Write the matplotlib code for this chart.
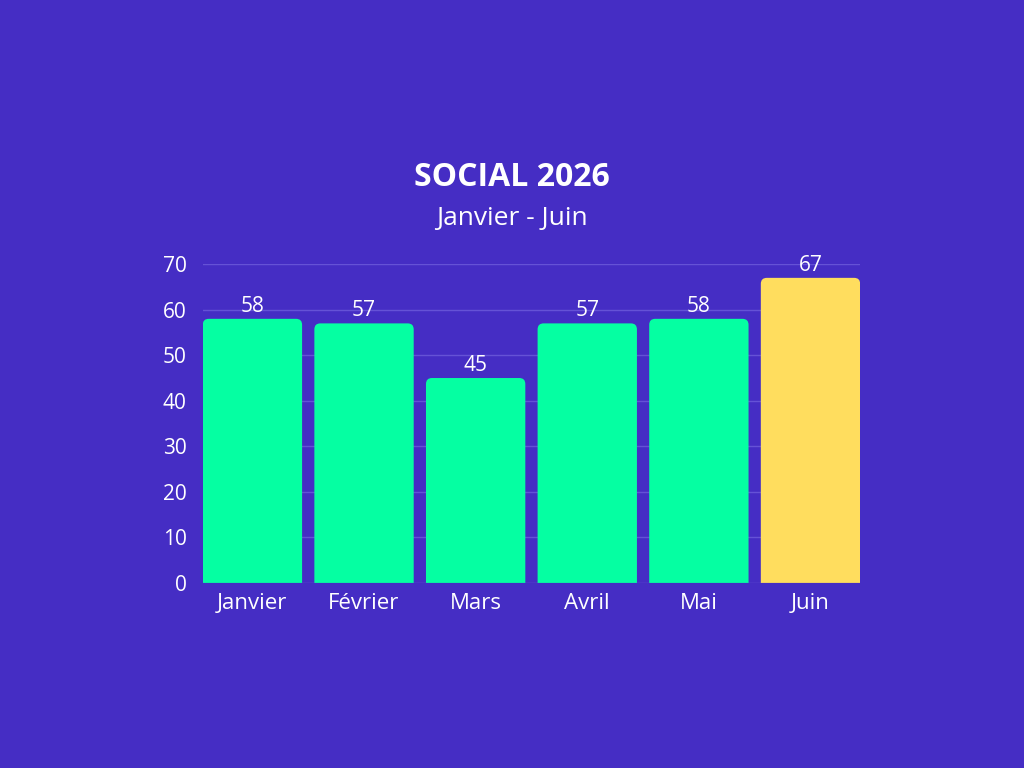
import matplotlib.pyplot as plt
from matplotlib.path import Path
from matplotlib.patches import PathPatch

plt.rcParams['font.family'] = ['Open Sans', 'DejaVu Sans']

mois = ['Janvier', 'Février', 'Mars', 'Avril', 'Mai', 'Juin']
valeurs = [58, 57, 45, 57, 58, 67]
couleurs = ['#05FFA2'] * 5 + ['#FFDD5E']

fond = '#452DC4'
largeur = 0.89

fig = plt.figure(figsize=(10.24, 7.68), dpi=100, facecolor=fond)
ax = fig.add_axes([0.198, 0.241, 0.642, 0.415])
ax.set_facecolor(fond)

x_min, x_max = -largeur / 2, len(mois) - 1 + largeur / 2
ax.set_xlim(x_min, x_max)
ax.set_ylim(0, 70)

# pixels par unité, pour arrondir les coins
px_x = 0.642 * 1024 / (x_max - x_min)
px_y = 0.415 * 768 / 70
rayon = 6


def barre_arrondie(x, h, w, color):
    x0, x1 = x - w / 2, x + w / 2
    rx, ry = rayon / px_x, rayon / px_y
    verts = [(x0, 0), (x0, h - ry), (x0, h), (x0 + rx, h),
             (x1 - rx, h), (x1, h), (x1, h - ry), (x1, 0), (x0, 0)]
    codes = [Path.MOVETO, Path.LINETO, Path.CURVE3, Path.CURVE3,
             Path.LINETO, Path.CURVE3, Path.CURVE3, Path.LINETO, Path.CLOSEPOLY]
    ax.add_patch(PathPatch(Path(verts, codes), facecolor=color, edgecolor='none', zorder=3))


for i, (v, c) in enumerate(zip(valeurs, couleurs)):
    barre_arrondie(i, v, largeur, c)
    ax.text(i, v + 0.45, str(v), ha='center', va='bottom', color='white', fontsize=15, zorder=4)

ax.set_yticks(range(0, 71, 10))
ax.set_xticks(range(len(mois)))
ax.set_xticklabels(mois)
ax.tick_params(colors='white', length=0)
ax.tick_params(axis='x', labelsize=16, pad=7)
ax.tick_params(axis='y', labelsize=15, pad=11.5)
ax.grid(axis='y', color='#6552D6', linewidth=1, zorder=0)
for s in ax.spines.values():
    s.set_visible(False)

fig.text(0.5, 0.769, 'SOCIAL 2026', ha='center', va='center', color='white',
         fontsize=23, fontweight='bold')
fig.text(0.5, 0.716, 'Janvier - Juin', ha='center', va='center', color='white', fontsize=19)

plt.savefig('out.png', dpi=100, facecolor=fond)
